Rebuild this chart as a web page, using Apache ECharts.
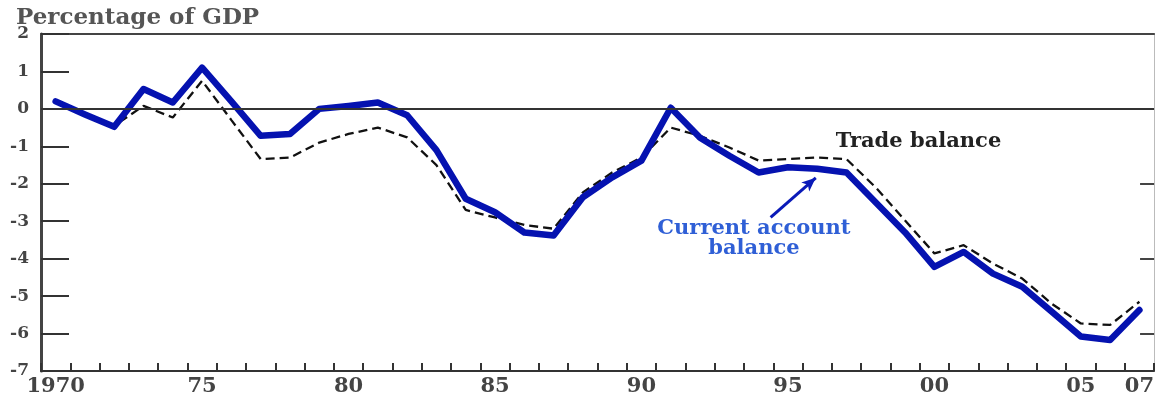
<!DOCTYPE html>
<html>
<head>
<meta charset="utf-8">
<script src="https://cdn.jsdelivr.net/npm/echarts@6/dist/echarts.min.js"></script>
<style>html,body{margin:0;padding:0;background:#fff}#c{width:1157px;height:403px}</style>
</head>
<body>
<div id="c"></div>
<script>
const years = [];
for (let y = 1970; y <= 2007; y++) years.push(String(y));

const currentAccount = [0.2, -0.15, -0.48, 0.53, 0.17, 1.1, 0.2, -0.72, -0.67, 0.0,
  0.08, 0.17, -0.17, -1.1, -2.4, -2.76, -3.3, -3.38, -2.36, -1.83,
  -1.38, 0.03, -0.77, -1.25, -1.7, -1.56, -1.6, -1.7, -2.5, -3.3,
  -4.22, -3.82, -4.4, -4.75, -5.41, -6.08, -6.17, -5.37];

const tradeBalance = [0.2, -0.12, -0.45, 0.08, -0.23, 0.75, -0.3, -1.34, -1.3, -0.9,
  -0.67, -0.5, -0.76, -1.5, -2.7, -2.9, -3.1, -3.2, -2.23, -1.7,
  -1.3, -0.5, -0.72, -1.03, -1.38, -1.34, -1.3, -1.34, -2.1, -2.98,
  -3.86, -3.64, -4.13, -4.53, -5.2, -5.73, -5.77, -5.15];

const labelYears = ['1970', '1975', '1980', '1985', '1990', '1995', '2000', '2005', '2007'];
const labelTexts = ['1970', '75', '80', '85', '90', '95', '00', '05', '07'];
const rightTickValues = [-6, -4, -2];

const tradeLabelPos = [1999.46, -0.86];
const currentLabelPos = [1993.84, -3.46];
const arrowFrom = [1994.41, -2.90];
const arrowTo = [1995.95, -1.84];

const FONT = 'DejaVu Serif';
const chart = echarts.init(document.getElementById('c'), null, {renderer: 'canvas'});
chart.setOption({
  animation: false,
  backgroundColor: '#fff',
  title: {
    text: 'Percentage of GDP', left: 11, top: 2,
    textStyle: {fontFamily: FONT, fontSize: 23, fontWeight: 'bold', color: '#555'}
  },
  grid: {left: 41, right: 1, top: 34, bottom: 32, containLabel: false},
  xAxis: [{
    type: 'category', data: years, boundaryGap: true, position: 'bottom',
    axisLine: {show: true, onZero: false, lineStyle: {color: '#333', width: 2}},
    axisTick: {show: true, inside: true, length: 8, interval: 0, lineStyle: {color: '#333', width: 2}},
    axisLabel: {
      interval: 0, margin: 5, fontFamily: FONT, fontSize: 21, fontWeight: 'bold', color: '#444',
      formatter: v => { const i = labelYears.indexOf(v); return i >= 0 ? labelTexts[i] : ''; }
    },
    splitLine: {show: false}
  }, {
    type: 'category', data: years, position: 'top',
    axisLine: {show: true, onZero: false, lineStyle: {color: '#444', width: 2}},
    axisTick: {show: false}, axisLabel: {show: false}, splitLine: {show: false}
  }, {
    type: 'value', min: 1969.5, max: 2007.5, show: false
  }],
  yAxis: [{
    type: 'value', min: -7, max: 2, interval: 1, position: 'left',
    axisLine: {show: true, lineStyle: {color: '#444', width: 3}},
    axisTick: {show: true, inside: true, length: 28, lineStyle: {color: '#333', width: 2}},
    axisLabel: {margin: 12, fontFamily: FONT, fontSize: 17, fontWeight: 'bold', color: '#444'},
    splitLine: {show: false}
  }, {
    type: 'value', min: -7, max: 2, interval: 1, position: 'right',
    axisLine: {show: true, lineStyle: {color: '#bbb', width: 1}},
    axisTick: {show: true, inside: true, length: 14, customValues: rightTickValues, lineStyle: {color: '#444', width: 2}},
    axisLabel: {show: false}, splitLine: {show: false}
  }],
  series: [{
    name: 'Trade balance', type: 'line', data: tradeBalance, xAxisIndex: 0, yAxisIndex: 0,
    symbol: 'none', smooth: false, z: 3,
    lineStyle: {color: '#111', width: 2.3, type: [9, 5]},
    markLine: {
      silent: true, symbol: ['none', 'none'], label: {show: false},
      lineStyle: {color: '#333', width: 2, type: 'solid'},
      data: [{yAxis: 0}]
    }
  }, {
    name: 'Current account balance', type: 'line', data: currentAccount, xAxisIndex: 0, yAxisIndex: 0,
    symbol: 'none', smooth: false, z: 4,
    lineStyle: {color: '#0512b0', width: 6.5, join: 'round', cap: 'round'}
  }, {
    type: 'scatter', xAxisIndex: 2, yAxisIndex: 0, symbolSize: 0, silent: true, z: 5,
    itemStyle: {opacity: 1},
    data: [
      {value: tradeLabelPos, label: {show: true, position: 'inside', formatter: 'Trade balance',
        fontFamily: FONT, fontSize: 21, fontWeight: 'bold', color: '#222'}},
      {value: currentLabelPos, label: {show: true, position: 'inside', formatter: 'Current account\nbalance',
        fontFamily: FONT, fontSize: 21, fontWeight: 'bold', color: '#2f5fd6', lineHeight: 20, align: 'center'}}
    ],
    markLine: {
      silent: true, symbol: ['none', 'arrow'], symbolSize: [9, 14], label: {show: false},
      lineStyle: {color: '#0a1ab8', width: 3, type: 'solid'},
      data: [[{coord: arrowFrom}, {coord: arrowTo}]]
    }
  }]
});
</script>
</body>
</html>
